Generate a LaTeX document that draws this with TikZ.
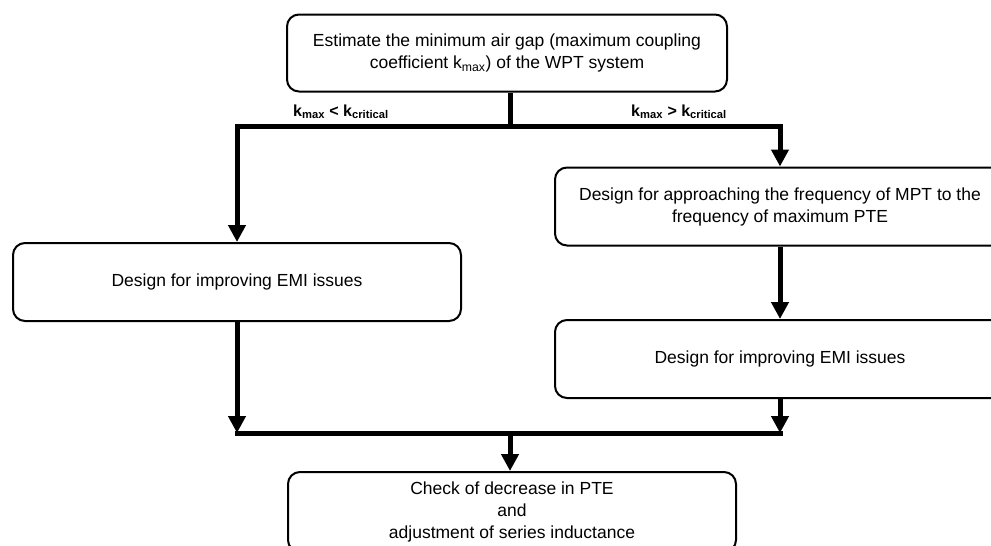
\documentclass[tikz,border=0pt]{standalone}
\usepackage{fontspec}
\setmainfont{Liberation Sans}
\usetikzlibrary{arrows.meta}
\begin{document}
\begin{tikzpicture}[x=1pt,y=-1pt,
  box/.style={draw=black,line width=2pt,rounded corners=12pt,align=center,font=\fontsize{17.5}{22}\selectfont,inner sep=0pt},
  conn/.style={line width=5pt},
  arr/.style={line width=5pt,-{Triangle[width=17pt,length=17pt]}},
  lbl/.style={font=\bfseries\fontsize{16}{18}\selectfont,inner sep=0pt}]
\useasboundingbox (0,0) rectangle (991,546);
\begin{scope}
\clip (0,0) rectangle (991,546);
\node[box,minimum width=440pt,minimum height=77pt] (top) at (507,53) {Estimate the minimum air gap (maximum coupling\\coefficient k\textsubscript{max}) of the WPT system};
\node[box,minimum width=448pt,minimum height=78pt] (left) at (237,282) {Design for improving EMI issues};
\node[box,minimum width=450pt,minimum height=78pt] (r1) at (780,206.5) {Design for approaching the frequency of MPT to the\\frequency of maximum PTE};
\node[box,minimum width=450pt,minimum height=78pt] (r2) at (780,359) {Design for improving EMI issues};
\node[box,minimum width=448pt,minimum height=80pt] (bot) at (512,512) {Check of decrease in PTE\\and\\adjustment of series inductance};
\end{scope}
\coordinate (s) at (510,126);
\coordinate (sl) at (237,126);
\coordinate (sr) at (780,126);
\coordinate (m) at (510,433);
\coordinate (ml) at (237,433);
\coordinate (mr) at (780,433);
\draw[conn] (top.south -| s) -- (s);
\draw[conn,line cap=rect] (sl) -- (sr);
\draw[arr] (sl) -- (left.north);
\draw[arr] (sr) -- (r1.north -| sr);
\draw[arr] (r1.south -| sr) -- (r2.north -| sr);
\draw[arr] (left.south) -- (ml);
\draw[arr] (r2.south -| mr) -- (mr);
\draw[conn,line cap=rect] (ml) -- (mr);
\draw[arr] (m) -- (bot.north -| m);
\node[lbl,anchor=base west] (la) at (293,116) {k\textsubscript{max} < k\textsubscript{critical}};
\node[lbl,anchor=base east] (lb) at (727,116) {k\textsubscript{max} > k\textsubscript{critical}};
\end{tikzpicture}
\end{document}
